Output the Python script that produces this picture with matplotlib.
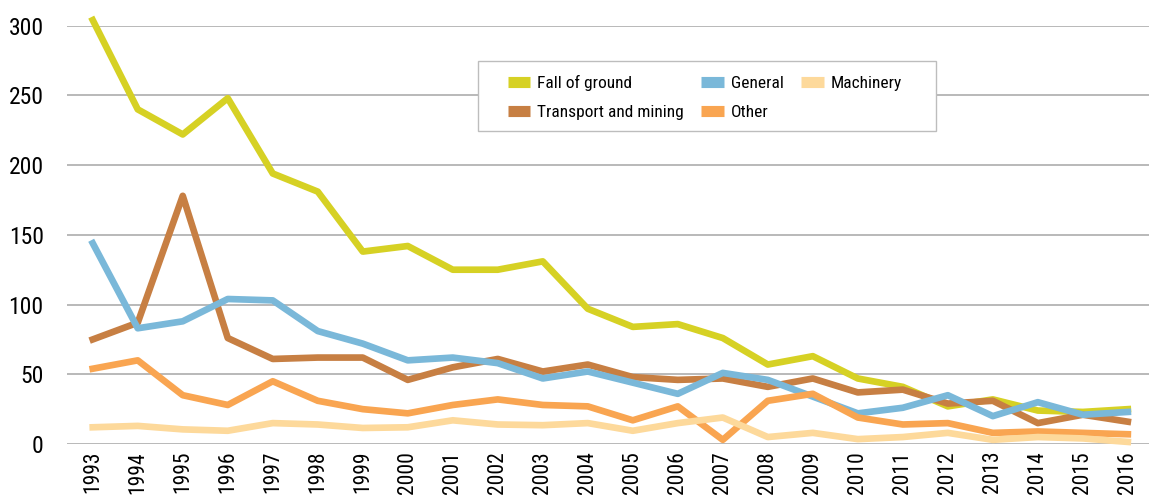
import matplotlib.pyplot as plt
import matplotlib.patches as patches
import numpy as np

plt.rcParams['font.family'] = ['Liberation Sans Narrow', 'DejaVu Sans Condensed', 'Roboto Condensed', 'Roboto', 'DejaVu Sans']

# years on the x axis
years = [str(y) for y in range(1993, 2017)]

# fatalities per category
fall_of_ground = [304, 240, 222, 248, 194, 181, 138, 142, 125, 125, 131, 97,
                  84, 86, 76, 57, 63, 47, 41, 27, 32, 24, 23, 25]
transport_mining = [75, 87, 178, 76, 61, 62, 62, 46, 55, 61, 52, 57,
                    48, 46, 47, 41, 47, 37, 39, 29, 31, 15, 21, 16]
general = [144, 83, 88, 104, 103, 81, 72, 60, 62, 58, 47, 52,
           44, 36, 51, 46, 34, 22, 26, 35, 20, 30, 21, 23]
other = [54, 60, 35, 28, 45, 31, 25, 22, 28, 32, 28, 27,
         17, 27, 3, 31, 36, 19, 14, 15, 8, 9, 8, 7]
machinery = [12, 13, 10.5, 9.5, 15, 14, 11.5, 12, 17, 14, 13.5, 15,
             9.5, 15, 19, 5, 8, 3.5, 5, 8, 3, 5, 4, 1.5]

W, H = 1149, 498
fig = plt.figure(figsize=(W / 100, H / 100), dpi=100)
ax = fig.add_axes([0.058, 0.1084, 0.942, 0.84])

x = np.arange(len(years))
lw = 4.8
ax.plot(x, fall_of_ground, color='#d6d124', lw=lw, label='Fall of ground', clip_on=False)
ax.plot(x, transport_mining, color='#c77f43', lw=lw, label='Transport and mining', clip_on=False)
ax.plot(x, general, color='#7ab8d9', lw=lw, label='General', clip_on=False)
ax.plot(x, other, color='#f9a551', lw=lw, label='Other', clip_on=False)
ax.plot(x, machinery, color='#fdd99b', lw=lw, label='Machinery', clip_on=False)

ax.set_xlim(-0.58, 23.47)
ax.set_ylim(0, 300)
ax.set_yticks([0, 50, 100, 150, 200, 250, 300])
ax.set_xticks(x)
ax.set_xticklabels(years, rotation=90, fontsize=15.5)
ax.tick_params(axis='y', labelsize=17, length=0, pad=16.5)
ax.tick_params(axis='x', length=0, pad=5)

ax.grid(axis='y', color='#b3b3b3', lw=1.3)
ax.set_axisbelow(True)
for s in ax.spines.values():
    s.set_visible(False)

# legend box drawn separately so the padding can match the reference
box = patches.Rectangle((478 / W, 1 - 131 / H), (936 - 478) / W, 70 / H,
                        transform=fig.transFigure, facecolor='white',
                        edgecolor='#bdbdbd', lw=1.0, zorder=5)
fig.patches.append(box)
handles, labels = ax.get_legend_handles_labels()
leg = fig.legend(handles, labels, ncol=3, loc='upper left',
                 bbox_to_anchor=(499 / W, 1 - 66 / H),
                 fontsize=12.5, frameon=False,
                 handlelength=1.3, handletextpad=0.4, columnspacing=1.0,
                 borderpad=0, labelspacing=0.8, handleheight=0.7)
leg.set_zorder(6)
for h in leg.legend_handles:
    h.set_linewidth(8)
    h.set_solid_capstyle('butt')

fig.savefig('out.png', dpi=100)
